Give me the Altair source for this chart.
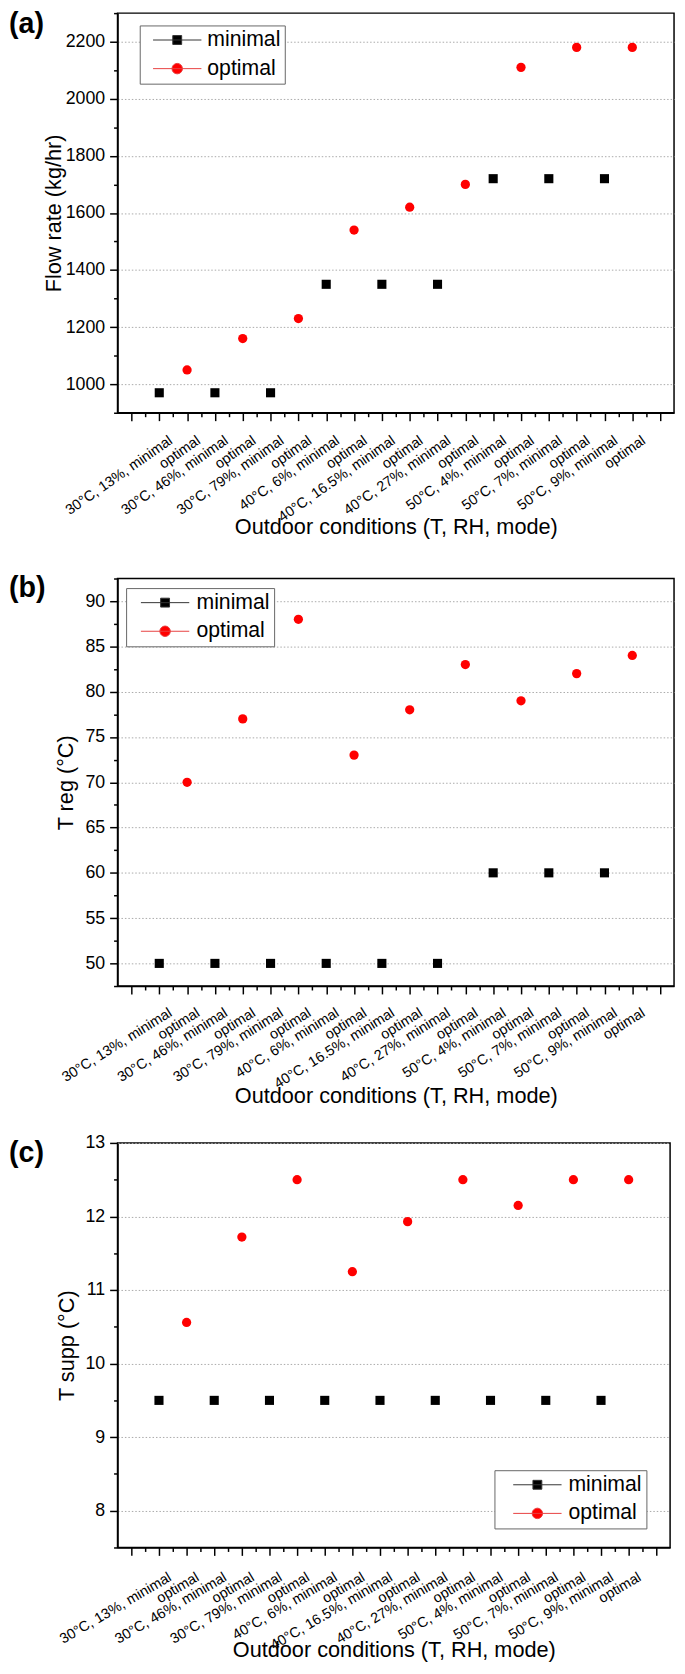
import json
import altair as alt
import pandas as pd

FONT = "Liberation Sans"

# ---- data ----
labels = ["30°C, 13%, minimal", "optimal", "30°C, 46%, minimal", "optimal",
          "30°C, 79%, minimal", "optimal", "40°C, 6%, minimal", "optimal",
          "40°C, 16.5%, minimal", "optimal", "40°C, 27%, minimal", "optimal",
          "50°C, 4%, minimal", "optimal", "50°C, 7%, minimal", "optimal",
          "50°C, 9%, minimal", "optimal"]
positions = list(range(1, 19))
modes = ["minimal", "optimal"] * 9
series = ["minimal", "optimal"]

flow_rate = [970, 1050, 970, 1160, 970, 1230, 1350, 1540, 1350, 1620,
             1350, 1700, 1720, 2110, 1720, 2180, 1720, 2180]
t_reg = [50, 70, 50, 77, 50, 88, 50, 73, 50, 78, 50, 83, 60, 79, 60, 82, 60, 84]
t_supp = [9.5, 10.56, 9.5, 11.72, 9.5, 12.5, 9.5, 11.25, 9.5, 11.93,
          9.5, 12.5, 9.5, 12.15, 9.5, 12.5, 9.5, 12.5]

x_major = list(range(0, 20))
x_minor = [v + 0.5 for v in range(0, 19)]

# legend symbols: line with marker (unit = 10 px for symbolSize 400)
SQ_PATH = "M-2.45,0H2.45M-0.45,-0.45H0.45V0.45H-0.45Z"
CI_PATH = ("M-2.45,0H2.45M0.53,0C0.53,0.292 0.292,0.53 0,0.53"
           "C-0.292,0.53 -0.53,0.292 -0.53,0C-0.53,-0.292 -0.292,-0.53 0,-0.53"
           "C0.292,-0.53 0.53,-0.292 0.53,0Z")

label_expr = ("datum.value >= 1 && datum.value <= 18 ? "
              + json.dumps(labels, ensure_ascii=False)
              + "[datum.value - 1] : ''")


def panel(values, ydom, ymajor, yminor, ytitle, letter, width, height,
          lab_angle, lab_pad, x_title_y, y_title_pad, y_lab_size,
          leg_x, leg_y, sym_off, lab_off, extra_bottom=0, letter_y=-4):
    df = pd.DataFrame({"pos": positions, "mode": modes, "value": values})
    xs = alt.Scale(domain=[-0.5, 19.5], nice=False, zero=False)
    ys = alt.Scale(domain=ydom, nice=False, zero=False)

    x_axis = alt.Axis(
        orient="bottom", values=x_major, labelExpr=label_expr,
        labelAngle=lab_angle, labelAlign="right", labelBaseline="top",
        labelOffset=7, labelPadding=lab_pad, labelFontSize=14.6,
        labelFont=FONT, labelColor="black", labelOverlap=False,
        labelFlush=False, labelLimit=300,
        tickSize=8, tickWidth=1.5, tickColor="black",
        domainColor="black", domainWidth=1.5, grid=False,
        title="Outdoor conditions (T, RH, mode)", titleFont=FONT,
        titleFontSize=22, titleFontWeight="normal", titleColor="black",
        titleBaseline="alphabetic", titleY=x_title_y)
    y_axis = alt.Axis(
        orient="left", values=ymajor, format="d", labelFontSize=y_lab_size,
        labelFont=FONT, labelColor="black", labelPadding=5,
        labelOverlap=False, labelFlush=False,
        tickSize=8, tickWidth=1.5, tickColor="black",
        domainColor="black", domainWidth=1.5,
        grid=True, gridColor="#aaaaaa", gridDash=[1.5, 2], gridWidth=1,
        title=ytitle, titleFont=FONT, titleFontSize=22,
        titleFontWeight="normal", titleColor="black", titlePadding=y_title_pad)
    minor_x_kw = dict(orient="bottom", values=x_minor, labels=False,
                      domain=False, grid=False, tickSize=4, tickWidth=1.5,
                      tickColor="black")
    if extra_bottom:
        minor_x_kw.update(title=" ", titleFont=FONT, titleFontSize=22,
                          titleBaseline="alphabetic",
                          titleY=x_title_y + extra_bottom)
    else:
        minor_x_kw.update(title=None)
    x_minor_axis = alt.Axis(**minor_x_kw)
    y_minor_axis = alt.Axis(orient="left", values=yminor, labels=False,
                            domain=False, grid=False, tickSize=4, tickWidth=1.5,
                            tickColor="black", title=None)

    base = alt.Chart(df)
    squares = base.transform_filter(alt.datum.mode == "minimal").mark_square(
        size=85, color="#000000", opacity=1).encode(
        x=alt.X("pos:Q", scale=xs, axis=x_axis),
        y=alt.Y("value:Q", scale=ys, axis=y_axis),
    )
    circles = base.transform_filter(alt.datum.mode == "optimal").mark_circle(
        size=88, color="#ff0000", opacity=1).encode(
        x=alt.X("pos:Q", scale=xs, axis=None),
        y=alt.Y("value:Q", scale=ys, axis=None),
    )

    leg = alt.Legend(
        title=None, orient="none", legendX=leg_x, legendY=leg_y,
        symbolSize=400, symbolStrokeWidth=1, symbolOffset=sym_off,
        labelOffset=lab_off, labelFontSize=21.5, labelFont=FONT,
        labelColor="black", rowPadding=6, padding=4,
        strokeColor="#666666", fillColor="white", cornerRadius=0)

    legend_layer = base.transform_filter("false").mark_point(
        filled=True, opacity=1).encode(
        x=alt.X("pos:Q", scale=xs, axis=x_minor_axis),
        y=alt.Y("value:Q", scale=ys, axis=y_minor_axis),
        fill=alt.Fill("mode:N", scale=alt.Scale(domain=series,
                      range=["#000000", "#ff0000"]), legend=leg),
        stroke=alt.Stroke("mode:N", scale=alt.Scale(domain=series,
                          range=["#333333", "#e84040"]), legend=leg),
        shape=alt.Shape("mode:N", scale=alt.Scale(domain=series,
                        range=[SQ_PATH, CI_PATH]), legend=leg),
    )

    letter_layer = alt.Chart(pd.DataFrame({"letter": [letter]})).mark_text(
        align="left", baseline="top", fontSize=29, fontWeight="bold",
        font=FONT, color="black").encode(
        text="letter:N", x=alt.value(-110), y=alt.value(letter_y))

    return alt.layer(squares, circles, legend_layer, letter_layer).resolve_axis(
        x="independent", y="independent").properties(
        width=width, height=height)


pa = panel(flow_rate, [900, 2300], list(range(1000, 2201, 200)),
           list(range(900, 2301, 200)), "Flow rate (kg/hr)", "(a)",
           564, 405, -35, 12, 122, 0, 18, 22.5, 12.5, 23.25, 19.75,
           extra_bottom=10, letter_y=-3)
pb = panel(t_reg, [47.5, 92.5], list(range(50, 91, 5)),
           [47.5 + 5 * i for i in range(10)], "T reg (°C)", "(b)",
           564, 413, -32, 11, 118, 8, 18, 8.7, 9.7, 24.75, 21.05)
pc = panel(t_supp, [7.5, 13], list(range(8, 14)),
           [7.5 + i for i in range(6)], "T supp (°C)", "(c)",
           560, 410, -30.5, 14, 110, 7, 18, 382, 331.7, 28.75, 20.75)

chart = alt.vconcat(pa, pb, pc, spacing=26).resolve_scale(
    fill="independent", stroke="independent", shape="independent"
).resolve_legend(
    fill="independent", stroke="independent", shape="independent"
).properties(
    padding={"left": 0, "top": -10, "right": 0, "bottom": 0},
    background="white").configure_view(stroke="black", strokeWidth=1.5)

chart.save("out.html", embed_options={"renderer": "svg", "actions": False})
